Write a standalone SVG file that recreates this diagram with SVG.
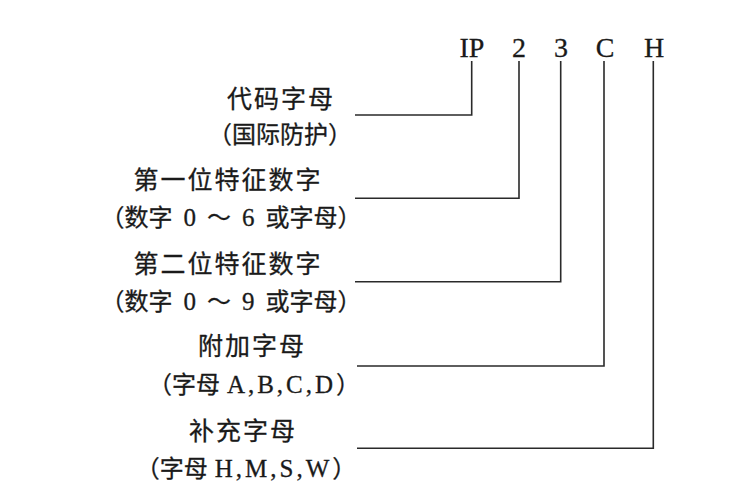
<svg xmlns="http://www.w3.org/2000/svg" width="744" height="492" viewBox="0 0 744 492">
<style>
.t{font-family:"Liberation Serif","Noto Sans CJK SC",serif;fill:#1a1a1a;stroke:#1a1a1a;stroke-width:0.3}
.code{font-size:28px;text-anchor:middle}
.l1{font-size:25px;letter-spacing:2px;text-anchor:middle}
.l2{font-size:24px;word-spacing:5px;text-anchor:middle}
.l3{font-size:24px;word-spacing:1px;text-anchor:middle}
.lat{font-size:25px;letter-spacing:3px}
.num{font-size:25px}
.c{fill:none;stroke:#2a2a2a;stroke-width:1.6}
</style>
<rect width="744" height="492" fill="#ffffff"/>
<g id="code">
<text class="t code" x="472" y="57">IP</text>
<text class="t code" x="519" y="57">2</text>
<text class="t code" x="561" y="57">3</text>
<text class="t code" x="605" y="57">C</text>
<text class="t code" x="654" y="57">H</text>
</g>
<g id="node1">
<text class="t l1" x="281" y="108">代码字母</text>
<text class="t l2" x="280" y="143">（国际防护）</text>
</g>
<g id="node2">
<text class="t l1" x="228" y="189">第一位特征数字</text>
<text class="t l2" x="231" y="226">（数字 <tspan class="num">0</tspan> ～ <tspan class="num">6</tspan> 或字母）</text>
</g>
<g id="node3">
<text class="t l1" x="228" y="273">第二位特征数字</text>
<text class="t l2" x="231" y="310">（数字 <tspan class="num">0</tspan> ～ <tspan class="num">9</tspan> 或字母）</text>
</g>
<g id="node4">
<text class="t l1" x="252" y="355">附加字母</text>
<text class="t l3" x="254" y="393">（字母 <tspan class="lat">A,B,C,D</tspan>）</text>
</g>
<g id="node5">
<text class="t l1" x="243" y="440">补充字母</text>
<text class="t l3" x="246" y="477">（字母 <tspan class="lat">H,M,S,W</tspan>）</text>
</g>
<g id="connectors">
<polyline class="c" points="355,115 471.7,115 471.7,61"/>
<polyline class="c" points="355,198.3 519,198.3 519,61"/>
<polyline class="c" points="355,281.7 560.7,281.7 560.7,61"/>
<polyline class="c" points="357,366 604,366 604,61"/>
<polyline class="c" points="357,448.3 653.3,448.3 653.3,61"/>
</g>
</svg>
